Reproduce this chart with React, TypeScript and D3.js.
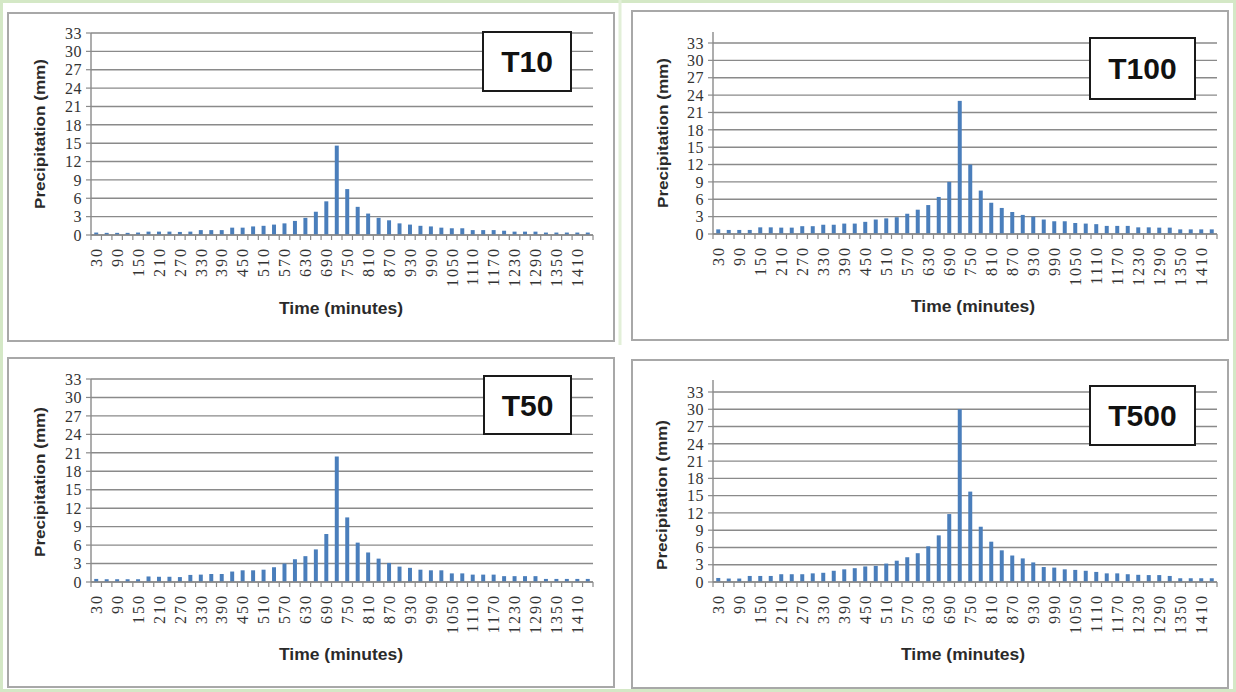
import React from 'react';
import * as d3 from 'd3';

// time steps (minutes)
const minutes = [
  30, 60, 90, 120, 150, 180, 210, 240, 270, 300, 330, 360,
  390, 420, 450, 480, 510, 540, 570, 600, 630, 660, 690, 720,
  750, 780, 810, 840, 870, 900, 930, 960, 990, 1020, 1050, 1080,
  1110, 1140, 1170, 1200, 1230, 1260, 1290, 1320, 1350, 1380, 1410, 1440,
];

// precipitation (mm) per return period
const t10 = [
  0.4, 0.35, 0.35, 0.35, 0.4, 0.55, 0.55, 0.55, 0.5, 0.55, 0.8, 0.8,
  0.8, 1.2, 1.2, 1.4, 1.5, 1.7, 1.9, 2.3, 2.8, 3.8, 5.5, 14.6,
  7.5, 4.6, 3.5, 2.8, 2.4, 1.9, 1.7, 1.5, 1.4, 1.2, 1.1, 1.1,
  0.8, 0.8, 0.8, 0.7, 0.55, 0.55, 0.55, 0.4, 0.4, 0.4, 0.4, 0.4,
];
const t100 = [
  0.8, 0.7, 0.7, 0.7, 1.15, 1.15, 1.1, 1.1, 1.35, 1.35, 1.6, 1.6,
  1.8, 1.8, 2.1, 2.5, 2.7, 2.9, 3.5, 4.2, 5.0, 6.4, 9.0, 23,
  12, 7.5, 5.4, 4.5, 3.8, 3.3, 3.0, 2.5, 2.2, 2.2, 1.9, 1.8,
  1.7, 1.4, 1.4, 1.4, 1.15, 1.15, 1.1, 1.1, 0.8, 0.8, 0.8, 0.8,
];
const t50 = [
  0.5, 0.45, 0.45, 0.45, 0.45, 0.9, 0.85, 0.85, 0.8, 1.15, 1.2, 1.3,
  1.3, 1.7, 1.9, 1.9, 2.0, 2.4, 3.0, 3.7, 4.2, 5.3, 7.8, 20.4,
  10.5, 6.4, 4.8, 3.8, 3.1, 2.5, 2.3, 2.0, 1.9, 1.9, 1.4, 1.4,
  1.2, 1.2, 1.2, 0.95, 0.95, 0.95, 0.95, 0.5, 0.5, 0.5, 0.5, 0.5,
];
const t500 = [
  0.7, 0.6, 0.6, 1.05, 1.05, 1.05, 1.35, 1.35, 1.35, 1.5, 1.6, 1.95,
  2.2, 2.4, 2.7, 2.8, 3.2, 3.7, 4.3, 5.0, 6.2, 8.1, 11.8, 30,
  15.7, 9.6, 7.0, 5.5, 4.6, 4.1, 3.4, 2.6, 2.5, 2.2, 2.1, 1.95,
  1.75, 1.5, 1.5, 1.35, 1.25, 1.2, 1.2, 1.05, 0.65, 0.65, 0.65, 0.65,
];

const yTicks = [0, 3, 6, 9, 12, 15, 18, 21, 24, 27, 30, 33];
const names = ['T10', 'T100', 'T50', 'T500'];
const yTitle = 'Precipitation (mm)';
const xTitle = 'Time (minutes)';

const BAR = '#4a7ebb';
const GRID = '#8a8a8a';
const tickFont = '"Liberation Serif", serif';
const titleFont = '"Liberation Sans", Arial, sans-serif';

// layout of each panel
const panels = [
  { name: names[0], values: t10, box: [8, 13, 606, 328], left: 91, right: 593, top: 33, bottom: 235, axisExtra: 0,
    label: [483, 32, 88, 59], yT: [40, 134], xT: [341, 308] },
  { name: names[1], values: t100, box: [632, 11, 596, 329], left: 713, right: 1217, top: 43, bottom: 234, axisExtra: 11,
    label: [1090, 38, 105, 61], yT: [663, 133], xT: [973, 306] },
  { name: names[2], values: t50, box: [8, 358, 606, 329], left: 91, right: 593, top: 379, bottom: 582, axisExtra: 0,
    label: [484, 376, 87, 58], yT: [40, 482], xT: [341, 654] },
  { name: names[3], values: t500, box: [632, 360, 596, 328], left: 713, right: 1217, top: 392, bottom: 582, axisExtra: 12,
    label: [1090, 386, 105, 59], yT: [662, 495], xT: [963, 654] },
];

function Panel({ p }: { p: any }) {
  const x = d3.scaleBand<string>()
    .domain(minutes.map(String))
    .range([p.left, p.right])
    .paddingInner(0.62)
    .paddingOuter(0.31);
  const y = d3.scaleLinear().domain([0, 33]).range([p.bottom, p.top]);
  const step = x.step();
  const bounds = d3.range(minutes.length + 1).map((i) => p.left + i * step);

  return (
    <g>
      <rect x={p.box[0]} y={p.box[1]} width={p.box[2]} height={p.box[3]} fill="#fff" stroke="#a8a8a8" strokeWidth={2} />

      {/* gridlines */}
      {yTicks.map((t) => (
        <line key={t} x1={p.left} x2={p.right} y1={y(t)} y2={y(t)} stroke={GRID} strokeWidth={1.4} />
      ))}

      {/* y axis */}
      <line x1={p.left} x2={p.left} y1={y(0)} y2={y(33) - p.axisExtra} stroke={GRID} strokeWidth={1.4} />
      {yTicks.map((t) => (
        <g key={t}>
          <line x1={p.left - 5} x2={p.left} y1={y(t)} y2={y(t)} stroke={GRID} strokeWidth={1.2} />
          <text x={p.left - 9} y={y(t)} dy="0.36em" textAnchor="end" fontFamily={tickFont} fontSize={16}
            letterSpacing={0.5} fill="#333">{t}</text>
        </g>
      ))}

      {/* x axis */}
      {bounds.map((b, i) => (
        <line key={i} x1={b} x2={b} y1={y(0)} y2={y(0) + 5} stroke={GRID} strokeWidth={1.2} />
      ))}
      {minutes.filter((_, i) => i % 2 === 0).map((m) => {
        const cx = (x(String(m)) as number) + x.bandwidth() / 2;
        return (
          <text key={m} transform={`translate(${cx},${y(0) + 12}) rotate(-90)`} dy="0.36em" textAnchor="end"
            fontFamily={tickFont} fontSize={16} letterSpacing={2} fill="#333">{m}</text>
        );
      })}

      {/* bars */}
      {p.values.map((v: number, i: number) => (
        <rect key={i} x={x(String(minutes[i]))} y={y(v)} width={x.bandwidth()} height={y(0) - y(v)} fill={BAR} />
      ))}
      <line x1={p.left} x2={p.right} y1={y(0)} y2={y(0)} stroke={GRID} strokeWidth={1.4} />

      {/* titles */}
      <text transform={`translate(${p.yT[0]},${p.yT[1]}) rotate(-90)`} dy="0.35em" textAnchor="middle"
        fontFamily={titleFont} fontWeight="bold" fontSize={15} fill="#2a2a2a" textLength={150}
        lengthAdjust="spacingAndGlyphs">{yTitle}</text>
      <text x={p.xT[0]} y={p.xT[1]} dy="0.35em" textAnchor="middle" fontFamily={titleFont} fontWeight="bold"
        fontSize={16} fill="#2a2a2a" textLength={124} lengthAdjust="spacingAndGlyphs">{xTitle}</text>

      {/* return-period label */}
      <rect x={p.label[0]} y={p.label[1]} width={p.label[2]} height={p.label[3]} fill="#fff" stroke="#1a1a1a"
        strokeWidth={2} />
      <text x={p.label[0] + p.label[2] / 2} y={p.label[1] + p.label[3] / 2} dy="0.36em" textAnchor="middle"
        fontFamily={titleFont} fontWeight="bold" fontSize={30} fill="#111">{p.name}</text>
    </g>
  );
}

export default function App() {
  return (
    <svg width={1236} height={692} style={{ position: 'absolute', left: 0, top: 0, background: '#fff' }}>
      <rect x={1.5} y={1.5} width={1233} height={689} fill="none" stroke="#d4e8c6" strokeWidth={3} />
      <line x1={620} x2={620} y1={0} y2={345} stroke="#e2efd8" strokeWidth={3} />
      {panels.map((p) => (
        <Panel key={p.name} p={p} />
      ))}
    </svg>
  );
}
